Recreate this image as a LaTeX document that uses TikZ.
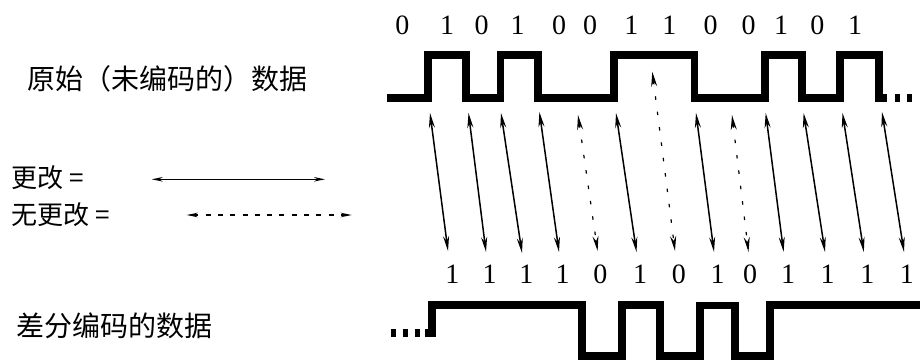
\documentclass[tikz,border=0pt]{standalone}
\usepackage{fontspec}
\newfontfamily\cjk{Noto Sans CJK SC}
\newfontfamily\digitfont{Liberation Serif}
\usetikzlibrary{arrows.meta}
\begin{document}
\begin{tikzpicture}[x=1pt,y=-1pt,
  wave/.style={line width=7.5pt, line join=miter, line cap=butt},
  chg/.style={line width=1.5pt, {Stealth[length=15pt,width=6pt]}-{Stealth[length=15pt,width=6pt]}},
  nochg/.style={chg, line width=1.2pt, dash pattern=on 3.5pt off 12pt},
  legchg/.style={line width=1.5pt, {Stealth[length=11pt,width=4.5pt]}-{Stealth[length=11pt,width=4.5pt]}},
  legnochg/.style={legchg, line width=1.2pt, dash pattern=on 5pt off 7.3pt},
  bit/.style={font=\digitfont\fontsize{28}{28}\selectfont, anchor=base, inner sep=0pt},
  lbl/.style={font=\cjk\fontsize{28}{28}\selectfont, anchor=west, inner sep=0pt},
  leg/.style={font=\cjk\fontsize{26}{26}\selectfont, anchor=west, inner sep=0pt}]
\useasboundingbox (0,0) rectangle (920,359);

% labels
\node[lbl] (orig) at (27,78.5) {原始（未编码的）数据};
\node[lbl] (diff) at (16,326) {差分编码的数据};
\node[leg] (chgl) at (11,178) {更改 =};
\node[leg] (nochgl) at (11,215) {无更改 =};

% legend arrows
\coordinate (l1a) at (151.7,179.3);
\coordinate (l1b) at (325,179.3);
\coordinate (l2a) at (186.7,215);
\coordinate (l2b) at (351.7,215);
\draw[legchg] (l1a) -- (l1b);
\draw[legnochg] (l2a) -- (l2b);

% top bits
\foreach \x/\b [count=\i] in {402.4/0,447.1/1,481.6/0,517.7/1,559.1/0,590.1/0,631.4/1,669.3/1,710.6/0,748.5/0,781.2/1,817.3/0,855.2/1}
  \node[bit] (t\i) at (\x,34.4) {\b};
% bottom bits
\foreach \x/\b [count=\i] in {452.3/1,489.5/1,526.3/1,562.5/1,600.4/0,640/1,678.9/0,717.5/1,750.2/0,788/1,827.7/1,867.3/1,906.9/1}
  \node[bit] (d\i) at (\x,283.4) {\b};

% top waveform
\draw[wave] (387,98) -- (428,98) -- (428,55) -- (466,55) -- (466,98) -- (500.5,98) -- (500.5,55)
  -- (538,55) -- (538,98) -- (614,98) -- (614,55) -- (694.5,55) -- (694.5,98) -- (765,98)
  -- (765,55) -- (802,55) -- (802,98) -- (840,98) -- (840,55) -- (879,55) -- (879,98) -- (887,98);
\draw[wave] (895,98) -- (899.5,98);
\draw[wave] (907,98) -- (911.5,98);

% bottom waveform
\draw[wave] (391,333) -- (395.5,333);
\draw[wave] (403,333) -- (407.5,333);
\draw[wave] (415,333) -- (419.5,333);
\draw[wave] (425,333) -- (432,333) -- (432,305) -- (582,305) -- (582,356) -- (622,356) -- (622,305)
  -- (660,305) -- (660,356) -- (700,356) -- (700,305.5) -- (735,305.5) -- (735,356) -- (770,356)
  -- (770,305) -- (921,305);

% arrows
\foreach \i/\xa/\ya/\xb/\yb in {1/430/113/448/251, 2/468.5/113/486/252, 3/501/113/522/253,
  4/539.4/112/559/252, 5/578/115/597.6/251, 6/616/113/636.5/252, 7/652.3/71.7/675/251,
  8/696/113/714/252, 9/732/115/748.5/252, 10/765.7/113/783.6/252, 11/803.6/113/825/252,
  12/842.5/113/863.8/252, 13/882/112/904/252}{
  \coordinate (a\i t) at (\xa,\ya);
  \coordinate (a\i b) at (\xb,\yb);
}
\foreach \i in {1,2,3,4,6,8,10,11,12,13}
  \draw[chg] (a\i t) -- (a\i b);
\foreach \i in {5,7,9}
  \draw[nochg] (a\i t) -- (a\i b);
\end{tikzpicture}
\end{document}
